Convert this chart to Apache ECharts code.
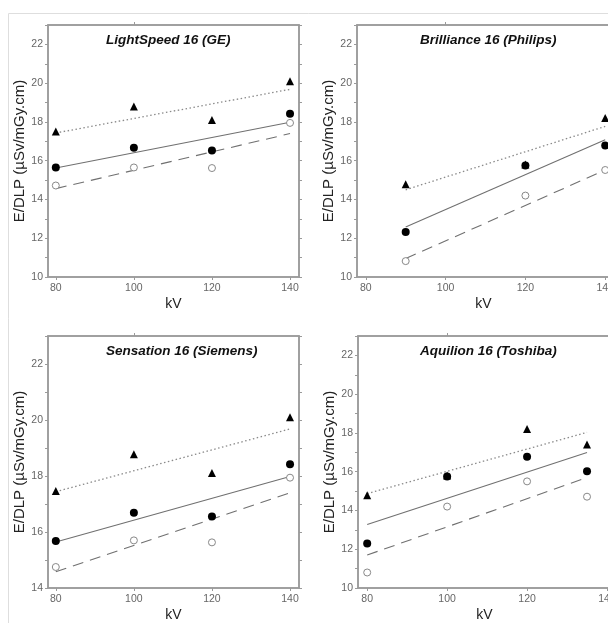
<!DOCTYPE html>
<html><head><meta charset="utf-8">
<script src="https://cdn.jsdelivr.net/npm/echarts@6/dist/echarts.min.js"></script>
<style>html,body{margin:0;padding:0;background:#fff}#c{width:608px;height:623px}</style>
</head><body><div id="c"></div>
<script>
// ---- data ----
const titles = ["LightSpeed 16 (GE)", "Brilliance 16 (Philips)", "Sensation 16 (Siemens)", "Aquilion 16 (Toshiba)"];
const xTickLabels = [80, 100, 120, 140];
const yTicksA = [10, 12, 14, 16, 18, 20, 22];
const yTicksB = [14, 16, 18, 20, 22];

// GE
const geKV = [80, 100, 120, 140];
const geTri = [17.5, 18.8, 18.1, 20.1];
const geDot = [15.65, 16.67, 16.52, 18.42];
const geOpen = [14.72, 15.65, 15.62, 17.95];
const geFitKV = [80, 140];
const geFitTri = [17.43, 19.68];
const geFitDot = [15.62, 17.98];
const geFitOpen = [14.56, 17.4];

// Philips
const phKV = [90, 120, 140];
const phTri = [14.78, 15.8, 18.2];
const phDot = [12.32, 15.75, 16.78];
const phOpen = [10.82, 14.2, 15.52];
const phFitKV = [90, 140];
const phFitTri = [14.5, 17.77];
const phFitDot = [12.58, 17.08];
const phFitOpen = [10.95, 15.52];

// Siemens
const siKV = [80, 100, 120, 140];
const siTri = [17.46, 18.78, 18.11, 20.1];
const siDot = [15.68, 16.69, 16.55, 18.42];
const siOpen = [14.75, 15.7, 15.63, 17.94];
const siFitKV = [80, 140];
const siFitTri = [17.44, 19.68];
const siFitDot = [15.64, 17.98];
const siFitOpen = [14.58, 17.4];

// Toshiba
const toKV = [80, 100, 120, 135];
const toTri = [14.78, 15.8, 18.2, 17.4];
const toDot = [12.3, 15.75, 16.77, 16.02];
const toOpen = [10.8, 14.2, 15.5, 14.71];
const toFitKV = [80, 135];
const toFitTri = [14.87, 18.03];
const toFitDot = [13.28, 16.99];
const toFitOpen = [11.7, 15.7];

const panels = [
  {kv: geKV, tri: geTri, dot: geDot, open: geOpen, fkv: geFitKV, ft: geFitTri, fd: geFitDot, fo: geFitOpen},
  {kv: phKV, tri: phTri, dot: phDot, open: phOpen, fkv: phFitKV, ft: phFitTri, fd: phFitDot, fo: phFitOpen},
  {kv: siKV, tri: siTri, dot: siDot, open: siOpen, fkv: siFitKV, ft: siFitTri, fd: siFitDot, fo: siFitOpen},
  {kv: toKV, tri: toTri, dot: toDot, open: toOpen, fkv: toFitKV, ft: toFitTri, fd: toFitDot, fo: toFitOpen}
];

// ---- layout ----
const gridPos = [
  {left: 48, top: 25, width: 251, height: 252, xmin: 78, xmax: 142.3, ymin: 10, ymax: 23, yt: yTicksA},
  {left: 357, top: 25, width: 253, height: 252, xmin: 77.8, xmax: 141.2, ymin: 10, ymax: 23, yt: yTicksA},
  {left: 48, top: 336, width: 251, height: 252, xmin: 78, xmax: 142.3, ymin: 14, ymax: 23, yt: yTicksB},
  {left: 358, top: 336, width: 253, height: 252, xmin: 77.7, xmax: 141.0, ymin: 10, ymax: 23, yt: yTicksA}
];

const pair = (xs, ys) => xs.map((x, i) => [x, ys[i]]);
const frameColor = '#9a9a9a';
const lineColor = '#707070';

const grid = [], xAxis = [], yAxis = [], series = [], graphic = [];
graphic.push({type: 'rect', shape: {x: 8.5, y: 13.5, width: 700, height: 700}, style: {fill: 'none', stroke: '#dedede', lineWidth: 1}, silent: true});

gridPos.forEach((g, i) => {
  grid.push({left: g.left, top: g.top, width: g.width, height: g.height, outerBoundsMode: 'none', containLabel: false,
    show: true, borderColor: frameColor, borderWidth: 1.5, backgroundColor: '#fff'});
  const minorY = [];
  for (let v = g.ymin; v <= g.ymax; v++) minorY.push(v);
  xAxis.push({type: 'value', gridIndex: i, min: g.xmin, max: g.xmax, position: 'bottom',
    name: 'kV', nameLocation: 'middle', nameGap: 20,
    nameTextStyle: {fontFamily: 'Liberation Sans', fontSize: 14, color: '#222'},
    axisLine: {show: true, onZero: false, lineStyle: {color: frameColor, width: 1.5}},
    axisTick: {show: true, customValues: xTickLabels, length: 3, inside: false, lineStyle: {color: frameColor}},
    axisLabel: {customValues: xTickLabels, fontFamily: 'Liberation Sans', fontSize: 10.5, color: '#666', margin: 6},
    splitLine: {show: false}});
  xAxis.push({type: 'value', gridIndex: i, min: g.xmin, max: g.xmax, position: 'top',
    axisLine: {show: true, onZero: false, lineStyle: {color: frameColor, width: 1.5}},
    axisTick: {show: true, customValues: [100], length: 3, lineStyle: {color: frameColor}},
    axisLabel: {show: false}, splitLine: {show: false}});
  yAxis.push({type: 'value', gridIndex: i, min: g.ymin, max: g.ymax, position: 'left',
    name: 'E/DLP (µSv/mGy.cm)', nameLocation: 'middle', nameGap: 20,
    nameTextStyle: {fontFamily: 'Liberation Sans', fontSize: 15, color: '#222'},
    axisLine: {show: true, onZero: false, lineStyle: {color: frameColor, width: 1.5}},
    axisTick: {show: true, customValues: minorY, length: 3, lineStyle: {color: frameColor}},
    axisLabel: {customValues: g.yt, fontFamily: 'Liberation Sans', fontSize: 10.5, color: '#666', margin: 5},
    splitLine: {show: false}});
  yAxis.push({type: 'value', gridIndex: i, min: g.ymin, max: g.ymax, position: 'right',
    axisLine: {show: true, onZero: false, lineStyle: {color: frameColor, width: 1.5}},
    axisTick: {show: true, customValues: minorY, length: 3, lineStyle: {color: frameColor}},
    axisLabel: {show: false}, splitLine: {show: false}});

  graphic.push({type: 'text', left: (i % 2 === 0 ? 170 : 484) - 64, top: g.top + 8,
    style: {text: titles[i], font: 'italic bold 13.5px "Liberation Sans"', fill: '#111', textAlign: 'left'}});

  const p = panels[i];
  const xi = i * 2, yi = i * 2;
  const lineBase = {type: 'line', xAxisIndex: xi, yAxisIndex: yi, symbol: 'none', silent: true, z: 2};
  series.push(Object.assign({}, lineBase, {data: pair(p.fkv, p.ft), lineStyle: {color: '#8a8a8a', width: 1.3, type: [1.5, 2.5]}}));
  series.push(Object.assign({}, lineBase, {data: pair(p.fkv, p.fd), lineStyle: {color: lineColor, width: 1.1, type: 'solid'}}));
  series.push(Object.assign({}, lineBase, {data: pair(p.fkv, p.fo), lineStyle: {color: lineColor, width: 1.1, type: [11, 7]}}));
  series.push({type: 'scatter', xAxisIndex: xi, yAxisIndex: yi, data: pair(p.kv, p.tri), symbol: 'triangle', symbolSize: 8, itemStyle: {color: '#000', opacity: 1}, z: 4});
  series.push({type: 'scatter', xAxisIndex: xi, yAxisIndex: yi, data: pair(p.kv, p.dot), symbol: 'circle', symbolSize: 8, itemStyle: {color: '#000', opacity: 1}, z: 4});
  series.push({type: 'scatter', xAxisIndex: xi, yAxisIndex: yi, data: pair(p.kv, p.open), symbol: 'circle', symbolSize: 7, itemStyle: {color: '#fff', borderColor: '#888', borderWidth: 1, opacity: 1}, z: 3});
});

const chart = echarts.init(document.getElementById('c'), null, {renderer: 'canvas'});
chart.setOption({animation: false, backgroundColor: '#fff', grid, xAxis, yAxis, series, graphic});
</script></body></html>
